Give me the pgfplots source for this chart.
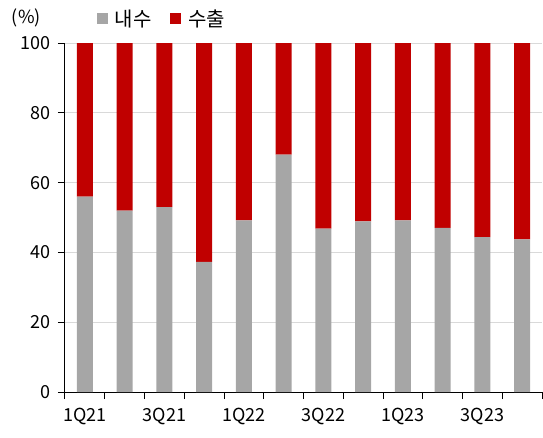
\documentclass[border=0pt]{standalone}
\usepackage{fontspec}
\setmainfont{Noto Sans CJK KR}
\usepackage{pgfplots}
\usepackage{pgfplotstable}
\pgfplotsset{compat=1.18}
\definecolor{domgray}{HTML}{A6A6A6}
\definecolor{expred}{HTML}{C00000}
\definecolor{gridgray}{HTML}{D9D9D9}

% share of sales (%): domestic / export
\pgfplotstableread{
x dom exp
0 56 44
1 52 48
2 53 47
3 37.3 62.7
4 49.2 50.8
5 68 32
6 46.8 53.2
7 48.9 51.1
8 49.2 50.8
9 47 53
10 44.4 55.6
11 43.7 56.3
}\shares

\begin{document}
\begin{tikzpicture}[font=\fontsize{13.5pt}{16pt}\selectfont]
\useasboundingbox (0,0) rectangle (407.25pt,327.75pt);
\begin{axis}[
  at={(48.75pt,33.75pt)}, anchor=south west,
  scale only axis,
  width=357.75pt, height=261.75pt,
  ybar stacked,
  bar width=0.4,
  xmin=-0.5, xmax=11.5,
  ymin=0, ymax=100,
  axis lines*=left,
  axis line style={black, line width=0.75pt},
  xtick={0,...,11},
  xticklabels={1Q21,,3Q21,,1Q22,,3Q22,,1Q23,,3Q23,},
  major x tick style={draw=none},
  minor xtick={-0.5,0.5,...,11.5},
  minor x tick style={black, line width=0.75pt},
  tick align=outside,
  minor tick length=5.25pt,
  major tick length=5.25pt,
  ytick={0,20,...,100},
  y tick style={black, line width=0.75pt},
  ymajorgrids=true,
  grid style={gridgray, line width=0.75pt},
  /pgf/number format/assume math mode=true,
  xticklabel style={yshift=-3pt},
  yticklabel style={xshift=-2pt},
  legend style={draw=none, fill=none, at={(axis description cs:0.067,1.069)}, anchor=west,
    legend columns=-1, inner sep=0pt, font=\fontsize{15pt}{18pt}\selectfont,
    /tikz/every odd column/.append style={column sep=3pt},
    /tikz/every even column/.append style={column sep=12pt}},
  legend image code/.code={\fill[#1,draw=none] (0pt,-4.1pt) rectangle (8.25pt,4.1pt);},
  clip=false,
]
\addplot[fill=domgray, draw=none] table[x=x, y=dom] {\shares};
\addplot[fill=expred, draw=none] table[x=x, y=exp] {\shares};
\legend{내수, 수출}
\node at (axis description cs:-0.081,1.072) {(\%)};
\end{axis}
\end{tikzpicture}
\end{document}
